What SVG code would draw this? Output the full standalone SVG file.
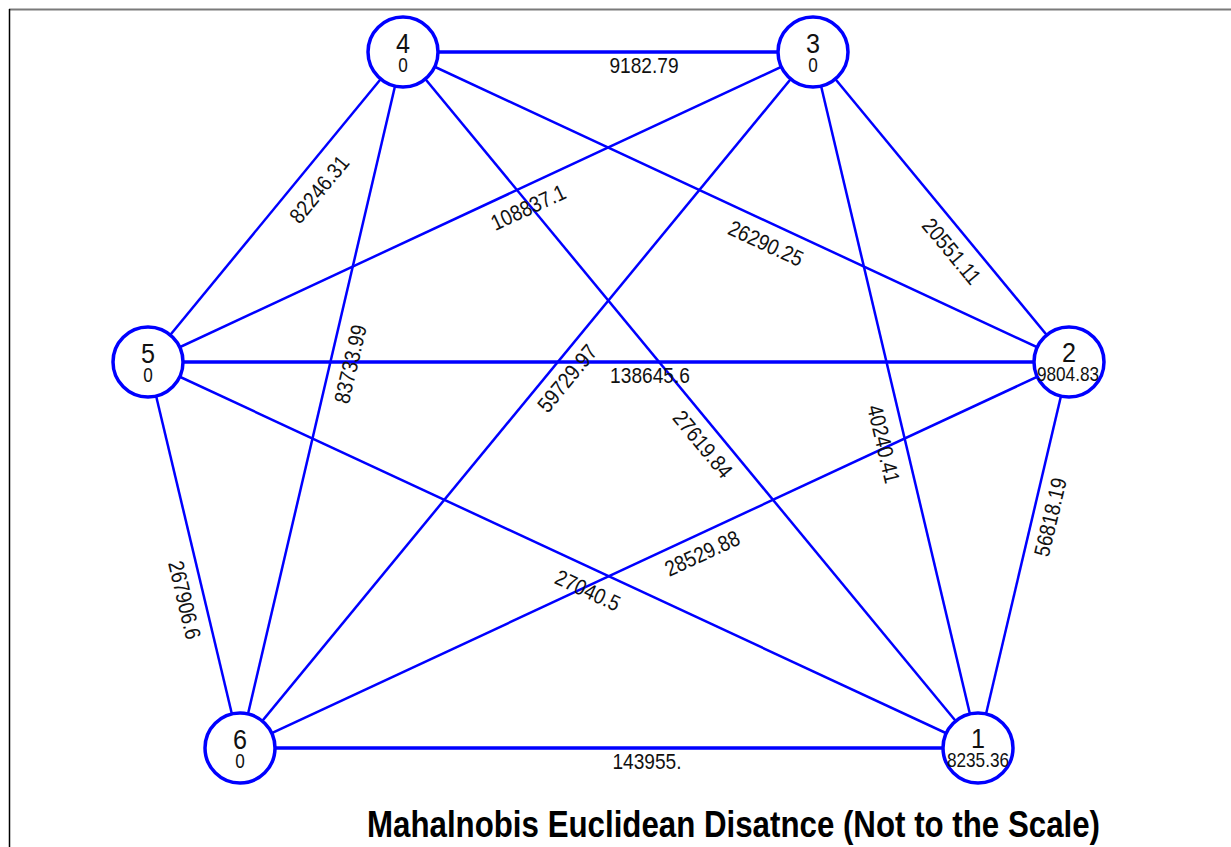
<svg xmlns="http://www.w3.org/2000/svg" width="1231" height="847" viewBox="0 0 1231 847">
<style>
.edge{stroke:#0000FF;stroke-width:2.5;fill:none}
.h{stroke-width:3.5}
.node circle{fill:#FFFFFF;stroke:#0000FF;stroke-width:3.5}
.num{font-family:"Liberation Sans",Arial,sans-serif;font-size:28px;fill:#111;text-anchor:middle}
.val{font-family:"Liberation Sans",Arial,sans-serif;font-size:20px;fill:#111;text-anchor:middle}
.lbl{font-family:"Liberation Sans",Arial,sans-serif;font-size:22px;fill:#111;text-anchor:middle}
.title{font-family:"Liberation Sans",Arial,sans-serif;font-size:36px;font-weight:bold;fill:#000}
</style>
<rect x="0" y="0" width="1231" height="847" fill="#FFFFFF"/>
<line x1="9" y1="9.5" x2="1231" y2="9.5" stroke="#7a7a7a" stroke-width="2"/>
<line x1="9.5" y1="9" x2="9.5" y2="847" stroke="#000" stroke-width="1.5"/>
<g id="connectors">
<line class="edge h" x1="403" y1="52" x2="813" y2="52"/>
<line class="edge h" x1="148" y1="362" x2="1069" y2="362"/>
<line class="edge h" x1="240" y1="748" x2="978" y2="748"/>
<line class="edge" x1="148" y1="362" x2="403" y2="52"/>
<line class="edge" x1="148" y1="362" x2="813" y2="52"/>
<line class="edge" x1="403" y1="52" x2="1069" y2="362"/>
<line class="edge" x1="813" y1="52" x2="1069" y2="362"/>
<line class="edge" x1="403" y1="52" x2="240" y2="748"/>
<line class="edge" x1="240" y1="748" x2="813" y2="52"/>
<line class="edge" x1="403" y1="52" x2="978" y2="748"/>
<line class="edge" x1="813" y1="52" x2="978" y2="748"/>
<line class="edge" x1="1069" y1="362" x2="978" y2="748"/>
<line class="edge" x1="240" y1="748" x2="1069" y2="362"/>
<line class="edge" x1="148" y1="362" x2="978" y2="748"/>
<line class="edge" x1="148" y1="362" x2="240" y2="748"/>
</g>
<g id="edge-labels">
<text class="lbl" transform="translate(644,65) scale(0.87,1)" y="8">9182.79</text>
<text class="lbl" transform="translate(650,375) scale(0.87,1)" y="8">138645.6</text>
<text class="lbl" transform="translate(647,761) scale(0.87,1)" y="8">143955.</text>
<text class="lbl" transform="translate(319,189) rotate(-50.6) scale(0.87,1)" y="8">82246.31</text>
<text class="lbl" transform="translate(528,207) rotate(-25) scale(0.87,1)" y="8">108837.1</text>
<text class="lbl" transform="translate(766,243) rotate(25) scale(0.87,1)" y="8">26290.25</text>
<text class="lbl" transform="translate(952,251) rotate(50.4) scale(0.87,1)" y="8">20551.11</text>
<text class="lbl" transform="translate(350,364) rotate(-76.8) scale(0.87,1)" y="8">83733.99</text>
<text class="lbl" transform="translate(567,378) rotate(-50.5) scale(0.87,1)" y="8">59729.97</text>
<text class="lbl" transform="translate(703,444) rotate(50.4) scale(0.87,1)" y="8">27619.84</text>
<text class="lbl" transform="translate(884,444) rotate(76.7) scale(0.87,1)" y="8">40240.41</text>
<text class="lbl" transform="translate(1050,517) rotate(-76.7) scale(0.87,1)" y="8">56818.19</text>
<text class="lbl" transform="translate(702,553) rotate(-25) scale(0.87,1)" y="8">28529.88</text>
<text class="lbl" transform="translate(588,590) rotate(25) scale(0.87,1)" y="8">27040.5</text>
<text class="lbl" transform="translate(185,600) rotate(76.6) scale(0.87,1)" y="8">267906.6</text>
</g>
<g id="node-1" class="node"><circle cx="978" cy="748" r="35"/><text class="num" transform="translate(978,748) scale(0.9,1)">1</text><text class="val" transform="translate(978,767) scale(0.86,1)">8235.36</text></g>
<g id="node-2" class="node"><circle cx="1069" cy="362" r="35"/><text class="num" transform="translate(1069,362) scale(0.9,1)">2</text><text class="val" transform="translate(1068,381) scale(0.86,1)">9804.83</text></g>
<g id="node-3" class="node"><circle cx="813" cy="52" r="35"/><text class="num" transform="translate(813,53) scale(0.9,1)">3</text><text class="val" transform="translate(813,72) scale(0.86,1)">0</text></g>
<g id="node-4" class="node"><circle cx="403" cy="52" r="35"/><text class="num" transform="translate(403,53) scale(0.9,1)">4</text><text class="val" transform="translate(403,72) scale(0.86,1)">0</text></g>
<g id="node-5" class="node"><circle cx="148" cy="362" r="35"/><text class="num" transform="translate(148,363) scale(0.9,1)">5</text><text class="val" transform="translate(148,382) scale(0.86,1)">0</text></g>
<g id="node-6" class="node"><circle cx="240" cy="748" r="35"/><text class="num" transform="translate(240,749) scale(0.9,1)">6</text><text class="val" transform="translate(240,768) scale(0.86,1)">0</text></g>
<text class="title" x="367" y="837" textLength="733" lengthAdjust="spacingAndGlyphs">Mahalnobis Euclidean Disatnce (Not to the Scale)</text>
</svg>
